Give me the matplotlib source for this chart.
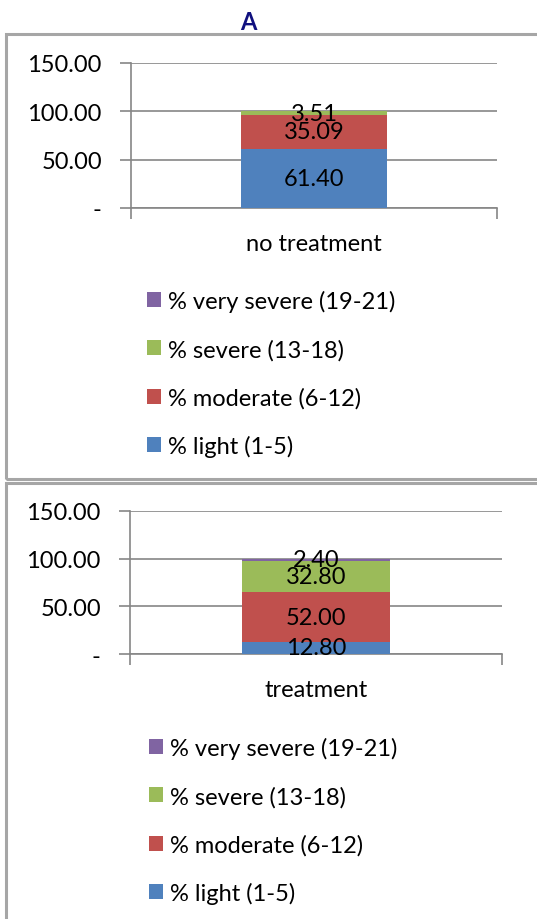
import matplotlib
matplotlib.use("Agg")
import matplotlib.pyplot as plt
from matplotlib.patches import Patch, Rectangle

plt.rcParams['font.family'] = ['Lato', 'DejaVu Sans']

series = ["% light (1-5)", "% moderate (6-12)", "% severe (13-18)", "% very severe (19-21)"]
colors = ["#4F81BD", "#C0504D", "#9BBB59", "#8064A2"]
yticks = [0, 50, 100, 150]
ytick_labels = ["-", "50.00", "100.00", "150.00"]

panel1_category = "no treatment"
panel1_values = [61.40, 35.09, 3.51, 0.0]
panel2_category = "treatment"
panel2_values = [12.80, 52.00, 32.80, 2.40]

W, H = 537, 920
fig = plt.figure(figsize=(W / 100, H / 100), dpi=100)

def fx(x): return x / W
def fy(y): return 1 - y / H

GRID = "#868686"
FS = 17

# panel borders
for (x0, y0, x1, y1) in [(6, 35, 545, 480), (6, 484, 545, 930)]:
    fig.patches.append(Rectangle((fx(x0), fy(y1)), fx(x1 - x0), (y1 - y0) / H,
                                 transform=fig.transFigure, fill=False,
                                 edgecolor="#A6A6A6", linewidth=2.2))

fig.text(fx(248), fy(23), "A", ha="center", va="center", fontsize=17,
         fontweight="bold", color="#10107F")

def panel(left, right, top, bottom, category, values, leg_x, leg_y):
    ax = fig.add_axes([fx(left), fy(bottom), fx(right - left), (bottom - top) / H])
    bottom_acc = 0.0
    for name, v, c in zip(series, values, colors):
        ax.bar([0], [v], width=0.4, bottom=bottom_acc, color=c, label=name, zorder=3)
        if v > 0:
            ax.text(0, bottom_acc + v / 2, f"{v:.2f}", ha="center", va="center",
                    fontsize=FS, color="black", zorder=4)
        bottom_acc += v
    ax.set_xlim(-0.5, 0.5)
    ax.set_ylim(0, 150)
    ax.set_yticks(yticks)
    ax.set_yticklabels(ytick_labels, fontsize=FS)
    ax.yaxis.grid(True, color=GRID, linewidth=1.2, zorder=0)
    ax.set_xticks([-0.5, 0.5])
    ax.set_xticklabels(["", ""])
    ax.set_xticks([0], minor=True)
    ax.set_xticklabels([category], minor=True, fontsize=FS)
    ax.tick_params(axis="x", which="minor", length=0, pad=18)
    ax.tick_params(axis="x", which="major", length=8, width=1.2, color=GRID)
    ax.tick_params(axis="y", length=8, width=1.2, color=GRID, pad=13)
    for s in ["top", "right"]:
        ax.spines[s].set_visible(False)
    ax.spines["left"].set_color(GRID)
    ax.spines["left"].set_linewidth(1.2)
    ax.spines["bottom"].set_color(GRID)
    ax.spines["bottom"].set_linewidth(1.2)
    handles = [Patch(facecolor=c, edgecolor="none") for c in colors][::-1]
    labels = series[::-1]
    fig.legend(handles, labels, loc="upper left",
               bbox_to_anchor=(fx(leg_x), fy(leg_y)), frameon=False,
               fontsize=FS, handlelength=0.6, handleheight=0.6,
               handletextpad=0.3, labelspacing=1.13, borderpad=0, borderaxespad=0)
    return ax

panel(131, 497, 64, 209, panel1_category, panel1_values, 147, 291)
panel(130, 502, 512, 655, panel2_category, panel2_values, 149, 738)

fig.savefig("out.png", dpi=100)
